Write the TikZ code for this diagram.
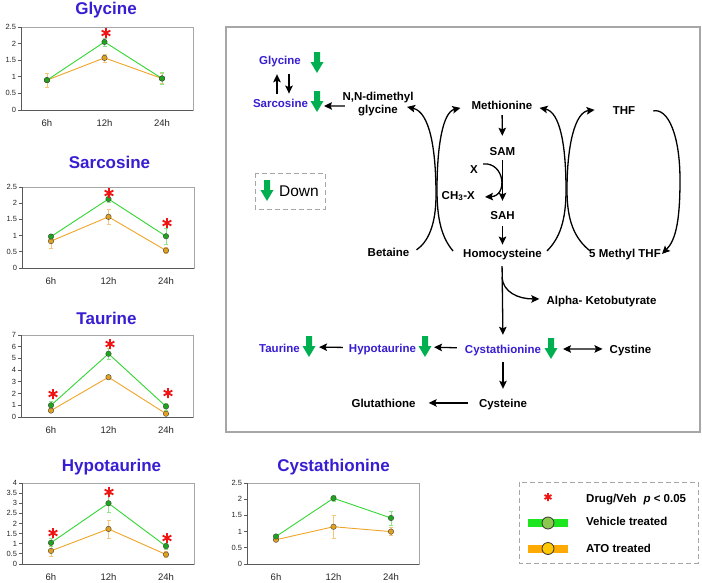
\documentclass[tikz,border=0pt]{standalone}
\usepackage{fontspec}
\setmainfont{Liberation Sans}
\usetikzlibrary{arrows.meta}
\definecolor{tblue}{RGB}{55,30,210}
\definecolor{dgreen}{RGB}{0,176,80}
\definecolor{lgreen}{RGB}{50,215,50}
\definecolor{mgreen}{RGB}{30,165,30}
\definecolor{lorange}{RGB}{240,165,40}
\definecolor{morange}{RGB}{225,160,30}
\definecolor{egreen}{RGB}{140,230,140}
\definecolor{eorange}{RGB}{245,200,120}
\definecolor{starred}{RGB}{240,20,20}
\definecolor{barg}{RGB}{30,230,30}
\definecolor{circg}{RGB}{140,200,80}
\definecolor{baro}{RGB}{255,170,0}
\definecolor{circo}{RGB}{255,200,0}
\tikzset{
  pw/.style={font=\fontsize{11.5}{13}\selectfont\bfseries, text height=8.2pt, text depth=0pt, inner xsep=2pt, inner ysep=3pt, anchor=base},
  pwb/.style={pw, text=tblue},
  tipk/.tip={Stealth[length=8pt,width=7.5pt,inset=1.5pt]},
  arr/.style={line width=1.3pt, -tipk},
  dbl/.style={line width=1.3pt, tipk-tipk},
  ttl/.style={font=\fontsize{17}{20}\selectfont\bfseries, text=tblue, anchor=base, inner sep=0pt},
  ticklab/.style={font=\fontsize{7.5}{8}\selectfont, text=black!85, inner sep=1.5pt, anchor=east},
  xlab/.style={font=\fontsize{9.5}{10}\selectfont, text=black!85, anchor=base, inner sep=0pt, yshift=-16pt},
  framegray/.style={draw=gray!70, line width=0.8pt},
  axisdark/.style={draw=black!65, line width=1pt},
  gline/.style={draw=lgreen, line width=0.9pt},
  oline/.style={draw=lorange, line width=0.9pt},
  gdot/.style={circle, fill=mgreen, draw=black!75, line width=0.4pt, inner sep=0pt, minimum size=5.5pt},
  odot/.style={circle, fill=morange, draw=black!75, line width=0.4pt, inner sep=0pt, minimum size=5.5pt},
  dashbox/.style={draw=gray!70, line width=1pt, dash pattern=on 5pt off 3pt},
  lgtext/.style={font=\fontsize{11.5}{13}\selectfont\bfseries, anchor=base west, inner sep=0pt},
}
\newcommand\chartbegin[6]{%
  \begin{scope}[shift={(#1,#3)}]
  \pgfmathsetmacro\hh{(#3-#2)/#4}
  \begin{scope}[y={(0pt,\hh pt)}]
  \draw[framegray] (0,0) rectangle (172,#4);
  \draw[axisdark] (0,#4) -- (0,0) -- (172,0);
  \foreach \t in {#5} {\draw[axisdark] (0,\t) -- (-3,\t) node[ticklab] {\t};}
  \pgfmathsetmacro\xa{#6}\pgfmathsetmacro\xb{#6+57.5}\pgfmathsetmacro\xc{#6+115}
  \node[xlab] at (\xa,0) {6h};
  \node[xlab] at (\xb,0) {12h};
  \node[xlab] at (\xc,0) {24h};
}
\newcommand\chartend{\end{scope}\end{scope}}
\newcommand\ebar[4]{\draw[draw=#4, line width=0.6pt] (#1,{#2-#3}) -- (#1,{#2+#3}) ({#1-2},{#2-#3}) -- ({#1+2},{#2-#3}) ({#1-2},{#2+#3}) -- ({#1+2},{#2+#3});}
\newcommand\series[4]{\draw[#1line] (\xa,#2) -- (\xb,#3) -- (\xc,#4);
  \node[#1dot] at (\xa,#2) {};\node[#1dot] at (\xb,#3) {};\node[#1dot] at (\xc,#4) {};}
\newcommand\redstar[3]{\draw[starred, line width=1.8pt] (#1,#2) +(90:#3) -- +(270:#3) (#1,#2) +(30:#3) -- +(210:#3) (#1,#2) +(150:#3) -- +(330:#3);}
\newcommand\gdown[2]{\fill[dgreen] (#1,#2) ++(-3,0) -- ++(6,0) -- ++(0,10) -- ++(3.5,0) -- ++(-6.5,11) -- ++(-6.5,-11) -- ++(3.5,0) -- cycle;}
\begin{document}
\begin{tikzpicture}[x=1pt,y=-1pt]
\useasboundingbox (0,0) rectangle (702,582);
\fill[white] (0,0) rectangle (702,582);

% ---------- charts ----------
\node[ttl] at (106,14) {Glycine};
\chartbegin{21}{27}{110}{2.5}{0,0.5,1,1.5,2,2.5}{26}
\ebar{\xa}{0.9}{0.22}{eorange}\ebar{\xb}{1.57}{0.12}{eorange}\ebar{\xc}{0.95}{0.15}{eorange}
\ebar{\xa}{0.9}{0.05}{egreen}\ebar{\xb}{2.05}{0.12}{egreen}\ebar{\xc}{0.95}{0.18}{egreen}
\series{o}{0.9}{1.57}{0.95}
\series{g}{0.9}{2.05}{0.95}
\chartend
\redstar{106}{33}{5}

\node[ttl] at (109.5,168) {Sarcosine};
\chartbegin{22}{187}{268}{2.5}{0,0.5,1,1.5,2,2.5}{29}
\ebar{\xa}{0.83}{0.22}{eorange}\ebar{\xb}{1.58}{0.23}{eorange}\ebar{\xc}{0.54}{0.1}{eorange}
\ebar{\xa}{0.97}{0.08}{egreen}\ebar{\xb}{2.13}{0.1}{egreen}\ebar{\xc}{0.98}{0.25}{egreen}
\series{o}{0.83}{1.58}{0.54}
\series{g}{0.97}{2.13}{0.98}
\chartend
\redstar{109}{193}{5}
\redstar{167}{223}{5}

\node[ttl] at (106.5,324) {Taurine};
\chartbegin{21}{335}{417}{7}{0,1,2,3,4,5,6,7}{30}
\ebar{\xa}{0.55}{0.1}{eorange}\ebar{\xb}{3.4}{0.1}{eorange}\ebar{\xc}{0.28}{0.1}{eorange}
\ebar{\xa}{1.0}{0.3}{egreen}\ebar{\xb}{5.4}{0.5}{egreen}\ebar{\xc}{0.9}{0.3}{egreen}
\series{o}{0.55}{3.4}{0.28}
\series{g}{1.0}{5.4}{0.9}
\chartend
\redstar{53}{394}{5}
\redstar{110}{344}{5}
\redstar{168}{393}{5}

\node[ttl] at (111.5,471) {Hypotaurine};
\chartbegin{22}{483}{564}{4}{0,0.5,1,1.5,2,2.5,3,3.5,4}{29}
\ebar{\xa}{0.65}{0.25}{eorange}\ebar{\xb}{1.73}{0.45}{eorange}\ebar{\xc}{0.47}{0.15}{eorange}
\ebar{\xa}{1.05}{0.2}{egreen}\ebar{\xb}{3.0}{0.45}{egreen}\ebar{\xc}{0.88}{0.15}{egreen}
\series{o}{0.65}{1.73}{0.47}
\series{g}{1.05}{3.0}{0.88}
\chartend
\redstar{53}{533}{5}
\redstar{109}{492}{5}
\redstar{167}{538}{5}

\node[ttl] at (333.5,471) {Cystathionine};
\chartbegin{247}{483}{564}{2.5}{0,0.5,1,1.5,2,2.5}{29}
\ebar{\xa}{0.75}{0.05}{eorange}\ebar{\xb}{1.15}{0.35}{eorange}\ebar{\xc}{1.0}{0.12}{eorange}
\ebar{\xa}{0.85}{0.05}{egreen}\ebar{\xb}{2.03}{0.1}{egreen}\ebar{\xc}{1.42}{0.22}{egreen}
\series{o}{0.75}{1.15}{1.0}
\series{g}{0.85}{2.03}{1.42}
\chartend

% ---------- legend ----------
\draw[dashbox] (519,482) rectangle (698,563);
\redstar{548}{497}{4}
\node[lgtext] (lg1) at (586,502) {Drug/Veh\hspace{0.6em}\textit{p} < 0.05};
\fill[barg] (528,519) rectangle (568,527);
\draw[fill=circg, draw=black!80, line width=0.8pt] (548,523) circle[radius=6pt];
\node[lgtext] (lg2) at (586,525) {Vehicle treated};
\fill[baro] (528,544.5) rectangle (568,552.5);
\draw[fill=circo, draw=black!80, line width=0.8pt] (548,548.5) circle[radius=6pt];
\node[lgtext] (lg3) at (586,552) {ATO treated};

% ---------- pathway box ----------
\draw[gray!70, line width=1.2pt] (226,27) rectangle (700,432);
\draw[dashbox] (255,173) rectangle (325,209);
\gdown{267}{180}
\node[font=\fontsize{15.5}{17}\selectfont, anchor=base, inner sep=0pt] (down) at (299,196) {Down};

\node[pwb] (gly) at (280,64) {Glycine};
\node[pwb] (sar) at (280.5,107) {Sarcosine};
\node[pw] (nn1) at (378,100) {N,N-dimethyl};
\node[pw] (nn2) at (378,113) {glycine};
\node[pw] (met) at (502,109) {Methionine};
\node[pw] (sam) at (502.5,155) {SAM};
\node[pw] (xn) at (474,173) {X};
\node[pw, anchor=base east] (ch3) at (477,199) {CH\textsubscript{3}-X};
\node[pw] (sah) at (502.5,219) {SAH};
\node[pw] (hcy) at (502.5,257) {Homocysteine};
\node[pw] (bet) at (388.5,256) {Betaine};
\node[pw] (thf) at (624,114) {THF};
\node[pw] (mthf) at (625,257) {5 Methyl THF};
\node[pw] (alpha) at (601.5,304) {Alpha- Ketobutyrate};
\node[pwb] (tau) at (279.5,352) {Taurine};
\node[pwb] (hypo) at (382.5,352) {Hypotaurine};
\node[pwb] (cyst) at (503,353) {Cystathionine};
\node[pw] (cystine) at (630.5,353) {Cystine};
\node[pw] (glut) at (383.5,407) {Glutathione};
\node[pw] (cys) at (503,407) {Cysteine};

\gdown{317}{52}
\gdown{317}{91}
\gdown{309}{336}
\gdown{425}{336}
\gdown{551}{338}
\coordinate (gSar) at (317,106);
\coordinate (gTau) at (309,347);
\coordinate (gHypo) at (425,347);
\coordinate (gCyst) at (551,349);

% glycine <-> sarcosine
\draw[arr, shorten <=2pt, shorten >=7pt] ([shift={(-3.5,0)}]sar.north) -- ([shift={(-3,0)}]gly.south);
\draw[arr, shorten <=7pt, shorten >=2pt] ([shift={(9,0)}]gly.south) -- ([shift={(8.5,0)}]sar.north);
\draw[arr, shorten <=11pt, shorten >=7pt] ([shift={(0,-3)}]nn2.west) -- (gSar);

% main vertical chain
\draw[arr, shorten <=3pt, shorten >=7.8pt] (met) -- (sam);
\draw[arr, shorten <=2pt, shorten >=6.8pt] (sam) -- (sah);
\draw[arr, shorten <=4pt, shorten >=1pt] (sah) -- (hcy);
\draw[arr, shorten <=6pt, shorten >=6.8pt] ([shift={(-0.5,0)}]hcy.south) -- (cyst.north);
\draw[arr, shorten <=6pt, shorten >=6.8pt] (cyst) -- (cys);

% X -> CH3-X
\draw[arr] ([shift={(3,-5)}]xn.east) .. controls (505,162) and (508,196) .. ([shift={(8,2)}]ch3.east);

% side branch
\draw[arr] ([shift={(-0.5,17)}]hcy.south) .. controls (503,292) and (518,299) .. ([shift={(-5,-1)}]alpha.west);

% cycles
\draw[arr] ([shift={(5,-2)}]bet.east) .. controls (428,242) and (436,225) .. (436,195) .. controls (436,150) and (430,112) .. ([shift={(7,-2)}]nn2.east);
\draw[arr] ([shift={(-8,-2)}]hcy.west) .. controls (442,238) and (437,220) .. (437,190) .. controls (437,145) and (443,112) .. ([shift={(-9,3)}]met.west);
\draw[arr] ([shift={(3,-2)}]hcy.east) .. controls (560,238) and (566,220) .. (566,190) .. controls (566,145) and (560,112) .. ([shift={(5,3)}]met.east);
\draw[arr] ([shift={(3,-2)}]mthf.west) .. controls (574,238) and (567,220) .. (567,190) .. controls (567,145) and (575,112) .. ([shift={(-16,0)}]thf.west);
\draw[arr] ([shift={(16,1)}]thf.east) .. controls (668,108) and (680,135) .. (680,180) .. controls (680,220) and (676,240) .. ([shift={(-1,1)}]mthf.east);

% lower horizontal
\draw[arr, shorten <=6pt, shorten >=9pt] (cyst) -- (gHypo);
\draw[arr, shorten <=4pt, shorten >=10pt] (hypo) -- (gTau);
\draw[dbl, shorten <=12pt, shorten >=5pt] (gCyst) -- (cystine);
\draw[arr, shorten <=9pt, shorten >=11pt] (cys) -- (glut);
\end{tikzpicture}
\end{document}
